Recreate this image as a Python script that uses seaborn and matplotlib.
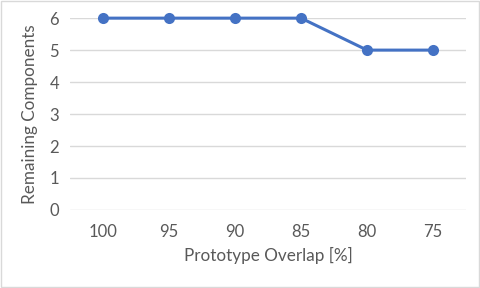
import matplotlib
matplotlib.use("Agg")
import seaborn as sns
import matplotlib.pyplot as plt
import pandas as pd
from matplotlib.patches import Rectangle

overlap = ["100", "95", "90", "85", "80", "75"]
components = [6, 6, 6, 6, 5, 5]

df = pd.DataFrame({"overlap": overlap, "components": components})

sns.set_theme(style="white")
plt.rcParams['font.family'] = ['Lato', 'DejaVu Sans']

grey = "#595959"
blue = "#4472C4"

fig = plt.figure(figsize=(4.8, 2.88), dpi=100)
ax = fig.add_axes([0.146, 0.271, 0.825, 0.666])

sns.lineplot(data=df, x="overlap", y="components", sort=False, color=blue,
             linewidth=2.2, marker="o", markersize=8, markeredgewidth=0,
             clip_on=False, ax=ax)

ax.set_xlim(-0.5, 5.5)
ax.set_ylim(0, 6)
ax.set_yticks(range(0, 7))
ax.yaxis.grid(True, color="#D9D9D9", linewidth=1)
ax.set_axisbelow(True)
for s in ax.spines.values():
    s.set_visible(False)
ax.tick_params(axis="both", length=0, labelsize=12, labelcolor=grey)
ax.tick_params(axis="x", pad=10)
ax.tick_params(axis="y", pad=8)
ax.set_xlabel("Prototype Overlap [%]", fontsize=12.3, color=grey, labelpad=5)
ax.set_ylabel("Remaining Components", fontsize=12.3, color=grey, labelpad=8)

fig.patches.append(Rectangle((0.002, 0.003), 0.995, 0.993, transform=fig.transFigure,
                             fill=False, edgecolor="#D9D9D9", linewidth=1))

fig.savefig("out.png", dpi=100)
